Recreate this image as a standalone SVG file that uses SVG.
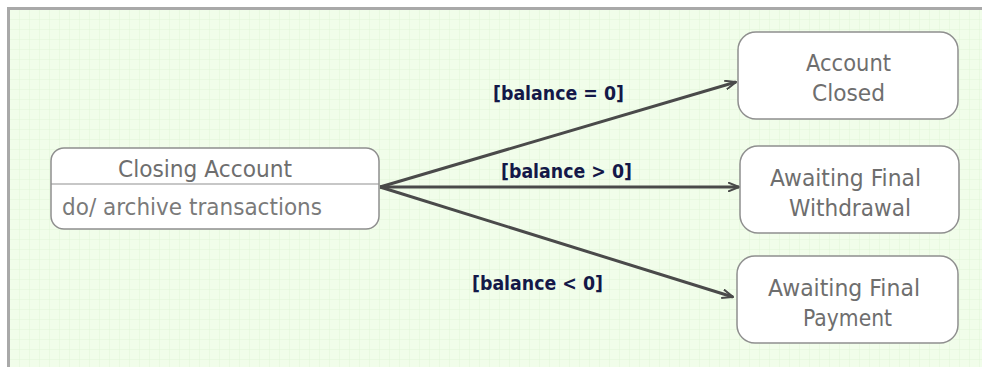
<svg xmlns="http://www.w3.org/2000/svg" width="982" height="367" viewBox="0 0 982 367">
  <defs>
    <pattern id="grid" width="10" height="10" patternUnits="userSpaceOnUse" x="10" y="10">
      <rect width="10" height="10" fill="#f1fdea"/>
      <path d="M10 0V10M0 10H10" fill="none" stroke="#e2f5d8" stroke-width="1"/>
    </pattern>
    <marker id="arrow" viewBox="0 0 12 10" refX="11" refY="5" markerWidth="12" markerHeight="10" markerUnits="userSpaceOnUse" orient="auto">
      <path d="M0 0.5L11 5L0 9.5" fill="none" stroke="#4a4a4a" stroke-width="2"/>
    </marker>
    <style>
      .state { fill: #ffffff; stroke: #8f8f8f; stroke-width: 1.5; }
      .name { font-family: "DejaVu Sans", "Liberation Sans", sans-serif; font-size: 23px; fill: #6e6e6e; text-anchor: middle; }
      .act { font-family: "DejaVu Sans", "Liberation Sans", sans-serif; font-size: 23px; fill: #7a7a7a; }
      .edge { fill: none; stroke: #4a4a4a; stroke-width: 3; marker-end: url(#arrow); }
      .guard { font-family: "DejaVu Sans", "Liberation Sans", sans-serif; font-size: 20px; font-weight: bold; fill: #141848; }
    </style>
  </defs>

  <!-- canvas -->
  <rect x="0" y="0" width="982" height="367" fill="#ffffff"/>
  <rect x="7" y="7" width="975" height="360" fill="url(#grid)"/>
  <path d="M8.5 367V8.5H982" fill="none" stroke="#a9a9a9" stroke-width="3"/>

  <!-- transitions -->
  <g id="connectors">
    <path class="edge" d="M380 187L736 82"/>
    <path class="edge" d="M380 187L739 187"/>
    <path class="edge" d="M380 187L733 297"/>
    <text class="guard" x="493" y="100" textLength="131" lengthAdjust="spacingAndGlyphs">[balance = 0]</text>
    <text class="guard" x="501" y="178" textLength="131" lengthAdjust="spacingAndGlyphs">[balance &gt; 0]</text>
    <text class="guard" x="472" y="290" textLength="131" lengthAdjust="spacingAndGlyphs">[balance &lt; 0]</text>
  </g>

  <g id="closing-account">
    <rect class="state" x="51" y="148" width="328" height="81" rx="13"/>
    <line x1="51" y1="184" x2="379" y2="184" stroke="#8f8f8f" stroke-width="1.2"/>
    <text class="name" x="205" y="177" textLength="174" lengthAdjust="spacingAndGlyphs">Closing Account</text>
    <text class="act" x="62" y="215" textLength="260" lengthAdjust="spacingAndGlyphs">do/ archive transactions</text>
  </g>

  <g id="account-closed">
    <rect class="state" x="738" y="32" width="220" height="87" rx="18"/>
    <text class="name" x="848.5" y="71" textLength="85" lengthAdjust="spacingAndGlyphs">Account</text>
    <text class="name" x="848.5" y="101" textLength="73" lengthAdjust="spacingAndGlyphs">Closed</text>
  </g>

  <g id="awaiting-final-withdrawal">
    <rect class="state" x="740" y="146" width="219" height="87" rx="18"/>
    <text class="name" x="845.5" y="186" textLength="151" lengthAdjust="spacingAndGlyphs">Awaiting Final</text>
    <text class="name" x="850" y="216" textLength="122" lengthAdjust="spacingAndGlyphs">Withdrawal</text>
  </g>

  <g id="awaiting-final-payment">
    <rect class="state" x="737" y="256" width="221" height="87" rx="18"/>
    <text class="name" x="844" y="296" textLength="152" lengthAdjust="spacingAndGlyphs">Awaiting Final</text>
    <text class="name" x="847.5" y="326" textLength="89" lengthAdjust="spacingAndGlyphs">Payment</text>
  </g>
</svg>
